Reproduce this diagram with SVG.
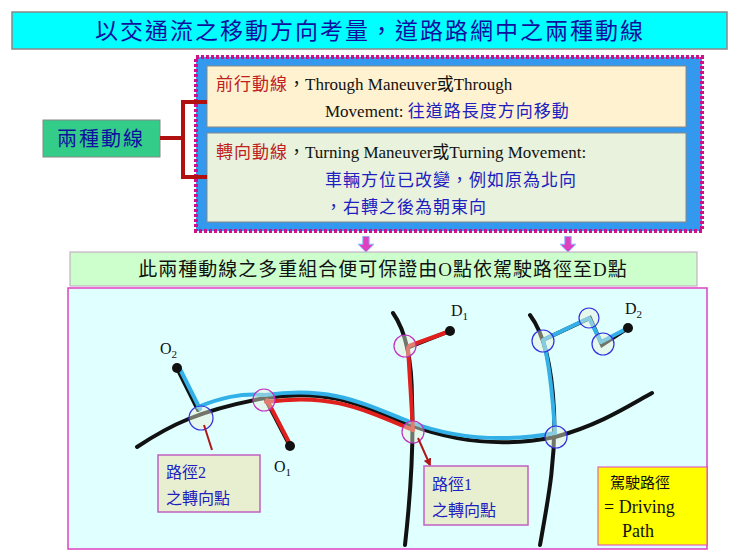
<svg xmlns="http://www.w3.org/2000/svg" width="740" height="559" viewBox="0 0 740 559">
<style>
.cjk{font-family:"Liberation Serif","Noto Sans CJK TC",serif}
.road{fill:none;stroke:#111;stroke-width:4;stroke-linecap:round}
.blue{fill:none;stroke:#33B0E8;stroke-width:4;stroke-linecap:round;stroke-linejoin:round}
.red{fill:none;stroke:#E0201C;stroke-width:4;stroke-linecap:round;stroke-linejoin:round}
.cb{fill:#E8F0D8;fill-opacity:0.45;stroke:#3030E0;stroke-width:1.2}
.cm{fill:#E8F0D8;fill-opacity:0.45;stroke:#C030C0;stroke-width:1.2}
.lbl{fill:#E8EED0;stroke:#C060C0;stroke-width:1.5}
</style>
<defs>
<marker id="ra" viewBox="0 0 10 10" refX="8" refY="5" markerWidth="4" markerHeight="4" orient="auto"><path d="M0,0L10,5L0,10z" fill="#B01818"/></marker>
<marker id="pa" viewBox="0 0 10 10" refX="5" refY="8" markerWidth="16" markerHeight="16" orient="0" markerUnits="userSpaceOnUse"><path d="M3,0H7V5H10L5,10L0,5H3z" fill="#E040C0" stroke="#80C0FF" stroke-width="0.6"/></marker>
</defs>
<rect width="740" height="559" fill="#fff"/>
<g id="title"><rect x="12" y="12" width="715" height="37" fill="#00FFFF" stroke="#888" stroke-width="1.5"/>
<text x="370" y="39" text-anchor="middle" class="cjk" font-size="23" fill="#1010A0" letter-spacing="2">以交通流之移動方向考量，道路路網中之兩種動線</text></g>
<g id="defs-box">
<rect x="196" y="57" width="506" height="174" fill="#3399EE" stroke="#D0108A" stroke-width="4" stroke-dasharray="3,2"/>
<rect x="207" y="66" width="479" height="61" fill="#FFF2D0" stroke="#888" stroke-width="1"/>
<rect x="207" y="133" width="479" height="89" fill="#E8F2DC" stroke="#888" stroke-width="1"/>
<text x="216" y="90" font-size="17" class="cjk"><tspan fill="#C02020" letter-spacing="1">前行動線</tspan><tspan fill="#111">，Through Maneuver或Through</tspan></text>
<text x="325" y="117" font-size="17" class="cjk"><tspan fill="#111">Movement: </tspan><tspan fill="#2020C0" letter-spacing="1">往道路長度方向移動</tspan></text>
<text x="216" y="158" font-size="17" class="cjk"><tspan fill="#C02020" letter-spacing="1">轉向動線</tspan><tspan fill="#111">，Turning Maneuver或Turning Movement:</tspan></text>
<text x="325" y="186" font-size="17" fill="#2020C0" class="cjk" letter-spacing="1">車輛方位已改變，例如原為北向</text>
<text x="325" y="213" font-size="17" fill="#2020C0" class="cjk" letter-spacing="1">，右轉之後為朝東向</text>
</g>
<g id="two-kinds"><rect x="43" y="120" width="117" height="37" fill="#33CC88" stroke="#888" stroke-width="1"/>
<text x="101" y="146" text-anchor="middle" class="cjk" font-size="20" fill="#1010A0" letter-spacing="2">兩種動線</text></g>
<g id="connectors">
<path d="M160,138H183M207,102H183V177H207" fill="none" stroke="#B01010" stroke-width="4"/>
<path d="M366,232V249" stroke="none" marker-end="url(#pa)"/>
<path d="M568,232V249" stroke="none" marker-end="url(#pa)"/>
</g>
<g id="band"><rect x="70" y="252" width="627" height="34" fill="#CCFFCC" stroke="#C0A0C0" stroke-width="1"/>
<text x="383" y="276" text-anchor="middle" class="cjk" font-size="19" fill="#111" letter-spacing="1">此兩種動線之多重組合便可保證由O點依駕駛路徑至D點</text></g>
<g id="panel"><rect x="68" y="288" width="639" height="261" fill="#E0FFFF" stroke="#E040C0" stroke-width="1.5"/>
<path class="road" d="M137,447 C170,425 200,410 265,398 C330,388 360,405 410,425 C450,440 500,448 555,437 C600,425 630,405 652,393"/>
<path class="road" d="M393,313 C405,330 412,360 412,400 C414,450 410,500 405,545"/>
<path class="road" d="M530,315 C545,335 552,370 554,410 C556,460 548,500 540,545"/>
<path class="road" d="M177,368L198,410M265,398L290,446M407,348L450,331M543,340L590,318L602,345L628,328"/>
<path class="blue" d="M177,368L198,410" transform="translate(2,-1)"/>
<path class="blue" d="M198,407 C220,398 240,393 265,395 C330,386 360,402 410,422 C450,437 500,443 555,433"/>
<path class="red" d="M266,402 C330,393 360,408 413,430"/>
<path class="red" d="M267,400L291,446"/>
<path class="red" d="M408,348L413,430M409,346L450,331"/>
<path class="blue" d="M555,433 C553,400 550,365 543,340L589,318L601,342L626,329"/>
<circle cx="177" cy="368" r="5" fill="#111"/><circle cx="290" cy="446" r="5" fill="#111"/>
<circle cx="450" cy="331" r="5" fill="#111"/><circle cx="628" cy="328" r="5" fill="#111"/>
<circle class="cb" cx="201" cy="418" r="12"/><circle class="cm" cx="264" cy="400" r="11"/>
<circle class="cm" cx="405" cy="346" r="11"/><circle class="cm" cx="413" cy="432" r="11"/>
<circle class="cb" cx="543" cy="341" r="11"/><circle class="cb" cx="589" cy="318" r="10"/>
<circle class="cb" cx="603" cy="344" r="11"/><circle class="cb" cx="556" cy="437" r="11"/>
<path d="M204,425L212,450M418,438L430,465" stroke="#B01818" stroke-width="2" marker-end="url(#ra)"/>
<text x="160" y="354" font-size="16" font-family="Liberation Serif" fill="#111">O<tspan font-size="11" dy="4">2</tspan></text>
<text x="274" y="472" font-size="16" font-family="Liberation Serif" fill="#111">O<tspan font-size="11" dy="4">1</tspan></text>
<text x="451" y="316" font-size="16" font-family="Liberation Serif" fill="#111">D<tspan font-size="11" dy="4">1</tspan></text>
<text x="625" y="314" font-size="16" font-family="Liberation Serif" fill="#111">D<tspan font-size="11" dy="4">2</tspan></text>
</g>
<g id="label2"><rect class="lbl" x="158" y="455" width="102" height="57"/>
<text x="166" y="478" class="cjk" font-size="16" fill="#2020C0">路徑2</text>
<text x="166" y="504" class="cjk" font-size="16" fill="#2020C0">之轉向點</text></g>
<g id="label1"><rect class="lbl" x="424" y="466" width="104" height="59"/>
<text x="432" y="490" class="cjk" font-size="16" fill="#2020C0">路徑1</text>
<text x="432" y="516" class="cjk" font-size="16" fill="#2020C0">之轉向點</text></g>
<g id="legend"><rect x="598" y="467" width="109" height="78" fill="#FFFF00" stroke="#E040C0" stroke-width="1"/>
<text x="610" y="488" class="cjk" font-size="15" fill="#111">駕駛路徑</text>
<text x="604" y="513" font-family="Liberation Serif" font-size="18" fill="#111">= Driving</text>
<text x="622" y="537" font-family="Liberation Serif" font-size="18" fill="#111">Path</text></g>
</svg>
